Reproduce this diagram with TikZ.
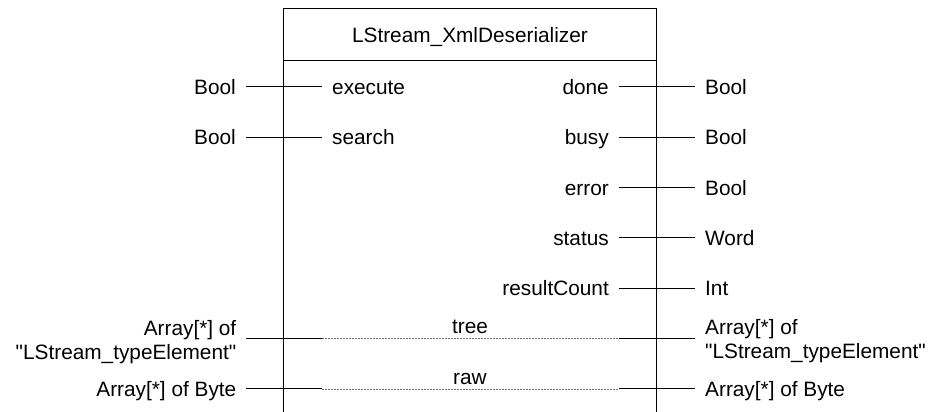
\documentclass[tikz,border=0pt]{standalone}
\usepackage{fontspec}
\setmainfont{Liberation Sans}
\begin{document}
\begin{tikzpicture}[x=1pt,y=-1pt,
  font=\fontsize{20.8}{24}\selectfont,
  lab/.style={inner sep=0pt},
  wire/.style={line width=1pt, black},
  dotwire/.style={line width=0.6pt, black!55, dash pattern=on 2pt off 1pt},
  frame/.style={line width=1pt, black}]
\useasboundingbox (0,0) rectangle (930,412);

% block outline (open at bottom)
\coordinate (bl) at (283.5,413);
\coordinate (tl) at (283.5,9);
\coordinate (tr) at (656.5,9);
\coordinate (br) at (656.5,413);
\coordinate (sl) at (283.5,61);
\coordinate (sr) at (656.5,61);
\draw[frame] (bl) -- (tl) -- (tr) -- (br);
\draw[frame] (sl) -- (sr);
\node[lab, anchor=base] (title) at (470,42.5) {LStream\_XmlDeserializer};

% left inputs
\coordinate (iexA) at (246,87);    \coordinate (iexB) at (321.5,87);
\coordinate (iseA) at (246,137.3); \coordinate (iseB) at (321.5,137.3);
\node[lab, anchor=base east] (tExec) at (236,94.5) {Bool};
\node[lab, anchor=base west] (pExec) at (332,94.5) {execute};
\node[lab, anchor=base east] (tSearch) at (236,144.8) {Bool};
\node[lab, anchor=base west] (pSearch) at (332,144.8) {search};
\draw[wire] (iexA) -- (iexB);
\draw[wire] (iseA) -- (iseB);

% right outputs
\foreach \nm/\yy/\pin/\typ in {done/87/done/Bool, busy/137.3/busy/Bool, error/187.6/error/Bool, status/237.9/status/Word, rc/288.2/resultCount/Int}{
  \coordinate (\nm A) at (618.5,\yy);
  \coordinate (\nm B) at (694.5,\yy);
  \node[lab, anchor=base east] (p\nm) at (609,\yy+7.5) {\pin};
  \node[lab, anchor=base west] (t\nm) at (705,\yy+7.5) {\typ};
  \draw[wire] (\nm A) -- (\nm B);
}

% in/out: tree
\coordinate (trA) at (246,338.5);
\coordinate (trB) at (321.5,338.5);
\coordinate (trC) at (618.5,338.5);
\coordinate (trD) at (694.5,338.5);
\draw[wire] (trA) -- (trB);
\draw[dotwire] (trB) -- (trC);
\draw[wire] (trC) -- (trD);
\node[lab, anchor=base] (pTree) at (470,333.5) {tree};
\node[lab, anchor=base east, align=right] (tTreeL) at (236.5,359) {Array[*] of\\\textquotedbl LStream\_typeElement\textquotedbl};
\node[lab, anchor=base west, align=left] (tTreeR) at (705,358.5) {Array[*] of\\\textquotedbl LStream\_typeElement\textquotedbl};

% in/out: raw
\coordinate (rwA) at (246,388.8);
\coordinate (rwB) at (321.5,388.8);
\coordinate (rwC) at (618.5,388.8);
\coordinate (rwD) at (694.5,388.8);
\draw[wire] (rwA) -- (rwB);
\draw[dotwire] (rwB) -- (rwC);
\draw[wire] (rwC) -- (rwD);
\node[lab, anchor=base] (pRaw) at (470,384.5) {raw};
\node[lab, anchor=base east] (tRawL) at (236.5,396.3) {Array[*] of Byte};
\node[lab, anchor=base west] (tRawR) at (705,396.3) {Array[*] of Byte};
\end{tikzpicture}
\end{document}
